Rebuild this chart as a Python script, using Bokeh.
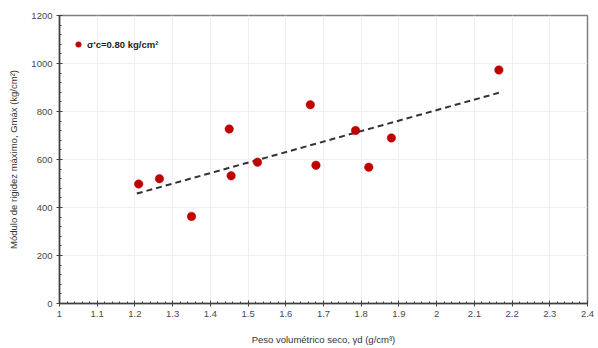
from bokeh.plotting import figure
from bokeh.models import Legend, LegendItem, Range1d, FixedTicker
from bokeh.embed import file_html
from bokeh.resources import INLINE

# Data
gamma_d = [1.21, 1.265, 1.35, 1.45, 1.455, 1.525, 1.665, 1.68, 1.785, 1.82, 1.88, 2.165]
gmax = [498, 520, 363, 727, 532, 589, 828, 576, 721, 568, 690, 973]
trend_x = [1.205, 2.165]
trend_y = [458, 878]
x_ticks = [1.0, 1.1, 1.2, 1.3, 1.4, 1.5, 1.6, 1.7, 1.8, 1.9, 2.0, 2.1, 2.2, 2.3, 2.4]
y_ticks = [0, 200, 400, 600, 800, 1000, 1200]

FONT = "Liberation Sans"

p = figure(width=598, height=348, output_backend="svg", toolbar_location=None,
           x_range=Range1d(1.0, 2.4), y_range=Range1d(0, 1200),
           min_border_left=59, min_border_right=11, min_border_top=15, min_border_bottom=45)

p.outline_line_color = "#7f7f7f"
p.outline_line_width = 1.5
p.background_fill_color = "white"
p.border_fill_color = "white"

for ax in (p.xaxis[0], p.yaxis[0]):
    ax.axis_line_color = "#404040"
    ax.axis_line_width = 1.5
    ax.major_tick_line_color = "#404040"
    ax.minor_tick_line_color = "#404040"
    ax.major_tick_in = 3
    ax.major_tick_out = 3
    ax.minor_tick_in = 2
    ax.minor_tick_out = 0
    ax.major_label_text_font = FONT
    ax.major_label_text_font_size = "9.5px"
    ax.major_label_text_color = "#4a4a4a"
    ax.axis_label_text_font = FONT
    ax.axis_label_text_font_size = "9.5px"
    ax.axis_label_text_font_style = "normal"
    ax.axis_label_text_color = "#333333"

p.xaxis.ticker = FixedTicker(ticks=x_ticks,
                             minor_ticks=[1.0 + 0.02 * i for i in range(71)])
p.yaxis.ticker = FixedTicker(ticks=y_ticks,
                             minor_ticks=[40 * i for i in range(31)])
p.xaxis.major_label_overrides = {t: ("%g" % t) for t in x_ticks}
p.xaxis.axis_label = "Peso volumétrico seco, γd (g/cm³)"
p.yaxis.axis_label = "Módulo de rigidez máximo, Gmáx (kg/cm²)"
p.xaxis.axis_label_standoff = 14
p.yaxis.axis_label_standoff = 9
p.xaxis.major_label_standoff = 4
p.yaxis.major_label_standoff = 4

p.grid.grid_line_color = "#efefef"
p.grid.grid_line_width = 1

p.line(trend_x, trend_y, line_color="#333333", line_width=2, line_dash="6 4")
pts = p.scatter(gamma_d, gmax, size=8.5, fill_color="#c00000", line_color="#c00000",
                line_width=0.5)

legend = Legend(items=[LegendItem(label="σ'c=0.80 kg/cm²", renderers=[pts])],
                location=(12, 249), border_line_color=None,
                background_fill_alpha=0, label_text_font=FONT,
                label_text_font_size="9.5px", label_text_font_style="bold",
                label_text_color="#222222", glyph_width=14, label_standoff=2,
                padding=4, margin=0)
p.add_layout(legend, "center")

open("out.html", "w").write(file_html(p, INLINE))
